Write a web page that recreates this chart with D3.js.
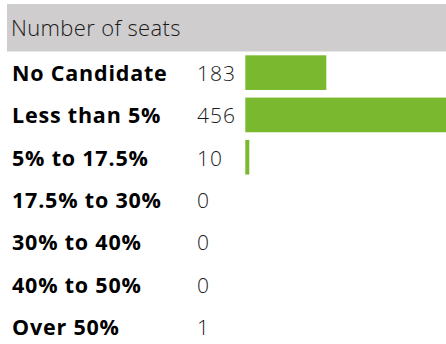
<!DOCTYPE html>
<html>
<head>
<meta charset="utf-8">
<script src="https://cdn.jsdelivr.net/npm/d3@7"></script>
<style>
  html, body { margin: 0; padding: 0; background: #fff; }
  svg { display: block; }
</style>
</head>
<body>
<svg id="chart" width="446" height="344"></svg>
<script>
// Seat counts by share-of-vote band
const title = "Number of seats";
const categories = ["No Candidate", "Less than 5%", "5% to 17.5%", "17.5% to 30%", "30% to 40%", "40% to 50%", "Over 50%"];
const seats = [183, 456, 10, 0, 0, 0, 1];

const width = 446, height = 344;
const svg = d3.select("#chart");

// Header band
svg.append("rect")
  .attr("x", 7).attr("y", 4)
  .attr("width", width - 7).attr("height", 47.5)
  .attr("fill", "#cfcdce");
svg.append("text")
  .attr("x", 11).attr("y", 36)
  .attr("font-family", "'Open Sans', sans-serif")
  .attr("font-weight", 300)
  .attr("font-size", 22)
  .attr("letter-spacing", 0.35)
  .attr("fill", "#1a1a1a")
  .text(title);

const y = d3.scaleBand()
  .domain(categories)
  .range([51.5, 347.5])
  .paddingInner(0.18)
  .paddingOuter(0.09);

const x = d3.scaleLinear()
  .domain([0, d3.max(seats)])
  .range([245.3, 448]);

const rows = svg.selectAll("g.row")
  .data(categories.map((c, i) => ({ cat: c, v: seats[i] })))
  .join("g").attr("class", "row");

rows.append("rect")
  .attr("x", x(0))
  .attr("y", d => y(d.cat))
  .attr("width", d => Math.round(x(d.v) - x(0)))
  .attr("height", y.bandwidth())
  .attr("fill", "#7ab92f");

rows.append("text")
  .attr("x", 12)
  .attr("y", d => y(d.cat) + y.bandwidth() / 2 + 8.5)
  .attr("font-family", "'Open Sans', sans-serif")
  .attr("font-weight", 700)
  .attr("font-size", 21.5)
  .attr("letter-spacing", 0.8)
  .attr("fill", "#000")
  .text(d => d.cat);

rows.append("text")
  .attr("x", 197)
  .attr("y", d => y(d.cat) + y.bandwidth() / 2 + 8.5)
  .attr("font-family", "'Open Sans', sans-serif")
  .attr("font-weight", 300)
  .attr("font-size", 21)
  .attr("letter-spacing", 1)
  .attr("fill", "#1a1a1a")
  .text(d => d.v);
</script>
</body>
</html>
